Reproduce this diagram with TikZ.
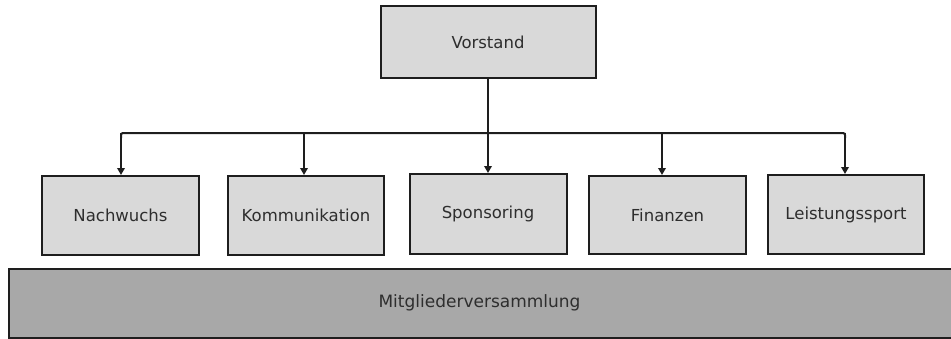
\documentclass[tikz,border=0pt]{standalone}
\usepackage{fontspec}
\setmainfont{DejaVu Sans}
\usetikzlibrary{arrows.meta,calc}
\definecolor{boxfill}{HTML}{D9D9D9}
\definecolor{basefill}{HTML}{A8A8A8}
\definecolor{edge}{HTML}{1E1E1E}
\definecolor{label}{HTML}{2E2E2E}
\begin{document}
\begin{tikzpicture}[x=1pt,y=-1pt,
  lbl/.style={text=label,font=\fontsize{16.5}{19}\selectfont},
  unit/.style={lbl,draw=edge,line width=2pt,fill=boxfill,inner sep=0pt,
    minimum width=157pt,minimum height=79pt},
  base/.style={draw=edge,line width=2pt,fill=basefill,inner sep=0pt},
  link/.style={draw=edge,line width=2pt},
  arr/.style={link,-{Triangle[length=7pt,width=7.5pt]}}]
\useasboundingbox (0,0) rectangle (951,338);

% board
\node[unit,minimum width=215pt,minimum height=72pt] (V) at (488,42) {Vorstand};

% departments
\node[unit] (N) at (120.5,215.5) {Nachwuchs};
\node[unit,minimum width=156pt] (K) at (306,215.5) {Kommunikation};
\node[unit,minimum height=80pt] (S) at (488,214) {Sponsoring};
\node[unit,minimum height=78pt] (F) at (667.5,215) {Finanzen};
\node[unit,minimum width=156pt] (L) at (846,214.5) {Leistungssport};

% general assembly, running off the right edge
\node[base,minimum width=960pt,minimum height=69pt,anchor=north west] (M) at (8,268) {};
\node[lbl,font=\fontsize{17}{20}\selectfont] (Mt) at (479.5,302.5) {Mitgliederversammlung};

% distribution bus
\coordinate (busL) at (121,133);
\coordinate (busR) at (845,133);
\draw[link] (V.south) -- (V.south |- busL);
\draw[link,rounded corners=2pt] ($(busL)+(0,5)$) -- (busL) -- (busR) -- ($(busR)+(0,5)$);
\draw[arr] (busL) -- (busL |- N.north);
\draw[arr] (304,133) -- ($(K.north)+(-2,0)$);
\draw[arr] (S.north |- busL) -- (S.north);
\draw[arr] (662,133) -- ($(F.north)+(-5.5,0)$);
\draw[arr] (busR) -- ($(L.north)+(-1,0)$);
\end{tikzpicture}
\end{document}
